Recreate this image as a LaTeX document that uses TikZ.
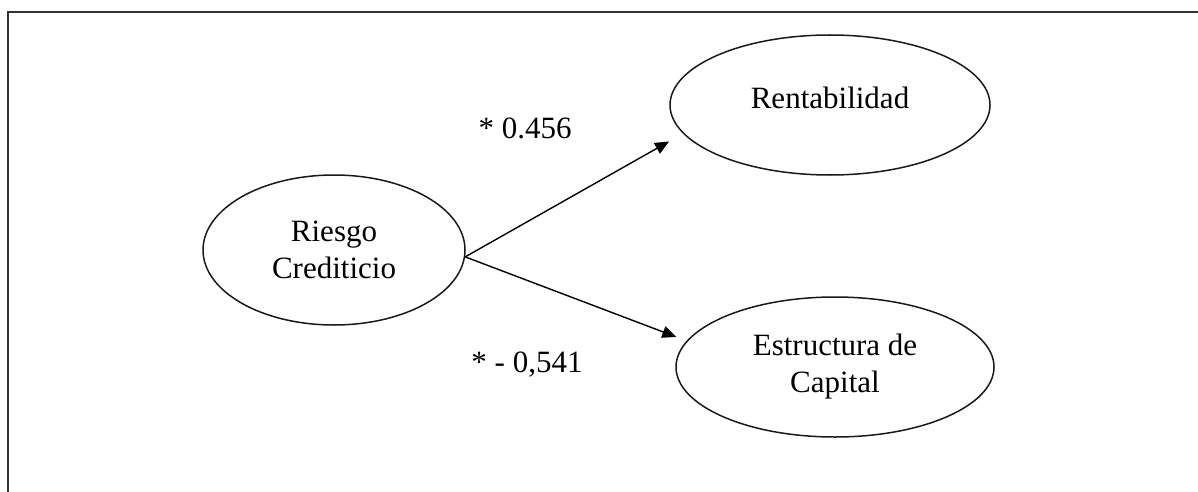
\documentclass[tikz,border=0pt]{standalone}
\usepackage{fontspec}
\setmainfont{Liberation Serif}
\usetikzlibrary{arrows.meta,shapes.geometric}
\begin{document}
\begin{tikzpicture}[x=0.5pt,y=-0.5pt,
  var/.style={ellipse,draw=black!90,line width=0.75pt,inner sep=0pt,align=center,
    font=\rmfamily\fontsize{15.5}{18.5}\selectfont},
  link/.style={-{Triangle[length=7pt,width=6pt]},line width=0.7pt,black},
  coef/.style={inner sep=0pt,font=\rmfamily\fontsize{15.5}{18.5}\selectfont}]
\useasboundingbox (0,0) rectangle (1198,492);
% open frame: top and left edges
\draw[black!80,line width=1.3pt] (8,492) -- (8,12) -- (1198,12);
% latent variables
\node[var,minimum width=131pt,minimum height=75pt] (riesgo) at (334,250) {Riesgo\\Crediticio};
\node[var,minimum width=160pt,minimum height=70pt,text depth=7pt] (rent) at (830,105) {Rentabilidad};
\node[var,minimum width=159pt,minimum height=70pt] (estr) at (835,367) {Estructura de\\Capital};
% path coefficients
\draw[link,shorten >=8pt] (riesgo.-3) -- (rent.191.2);
\draw[link,shorten >=5.5pt] (riesgo.-3) -- (estr.170);
\node[coef] (c1) at (525,128) {* 0.456};
\node[coef] (c2) at (527,365) {* - 0,541};
\end{tikzpicture}
\end{document}
